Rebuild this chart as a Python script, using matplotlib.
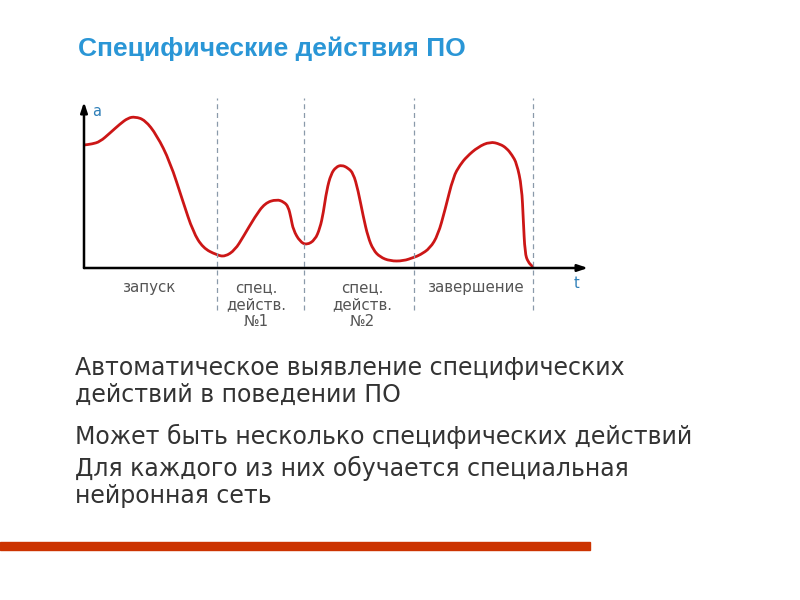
import matplotlib
matplotlib.use("Agg")
import matplotlib.pyplot as plt
from matplotlib.path import Path
import matplotlib.patches as patches

# curve: t to the right of the a-axis, a above the t-axis (pixels)
curve_t = [0, 8, 16, 26, 36, 44, 51, 61, 72.7, 86, 99, 109, 119, 132.7, 141, 151, 159.3,
           171, 181, 192.7, 200, 204.3, 207, 209.3, 216, 222.7, 231, 236, 239.3, 242.7,
           247, 252, 257.7, 264, 269.3, 274, 279.3, 284, 289.3, 296, 306, 319.3, 330,
           336, 346, 354, 361, 369.3, 376, 382.7, 394, 406, 416, 422.7, 428, 432.7,
           437.7, 439.3, 441, 444, 448.7]
curve_a = [123, 124, 126.3, 135, 144, 150, 151.3, 148, 133, 106.3, 66.3, 36.3, 20, 13, 11.3,
           18, 31.3, 51.3, 65, 68.7, 66, 61.3, 50, 38, 26.3, 23, 28, 40, 55, 78, 94,
           101, 103, 100, 94.7, 78, 51.3, 31, 18, 11, 7, 7, 10.7, 13, 19.7, 33, 58, 91.3,
           103, 111.3, 121, 126.3, 124, 119.7, 113, 104.7, 81.3, 48, 14.7, 6, 1.3]

section_edges = [132.7, 220, 330, 448.7]
section_labels = ["запуск", "спец.\nдейств.\n№1", "спец.\nдейств.\n№2", "завершение"]
section_centers = [66, 172, 278, 392]

body_lines = [
    "Автоматическое выявление специфических\nдействий в поведении ПО",
    "Может быть несколько специфических действий",
    "Для каждого из них обучается специальная\nнейронная сеть",
]


def smooth_path(xs, ys):
    # quadratic pieces through the midpoints, the read points act as control points
    pts = list(zip(xs, ys))
    verts = [pts[0]]
    codes = [Path.MOVETO]
    mid = lambda p, q: ((p[0] + q[0]) / 2, (p[1] + q[1]) / 2)
    verts.append(mid(pts[0], pts[1]))
    codes.append(Path.LINETO)
    for i in range(1, len(pts) - 1):
        verts += [pts[i], mid(pts[i], pts[i + 1])]
        codes += [Path.CURVE3, Path.CURVE3]
    verts.append(pts[-1])
    codes.append(Path.LINETO)
    return Path(verts, codes)


fig = plt.figure(figsize=(8, 6), dpi=100)
fig.patch.set_facecolor("white")

# chart axes: origin at pixel (84, 268)
ax = fig.add_axes([84 / 800, (600 - 312) / 600, (600 - 84) / 800, (312 - 95) / 600])
ax.set_xlim(0, 516)
ax.set_ylim(-44, 173)
ax.axis("off")

ax.vlines(section_edges, -42, 170, colors="#8a9aaa", linestyles=(0, (4, 3)), linewidth=0.9)

arrow = dict(arrowstyle="-|>,head_length=0.6,head_width=0.2", color="black", lw=1.8,
             shrinkA=0, shrinkB=0)
ax.annotate("", xy=(504, 0), xytext=(0, 0), arrowprops=arrow)
ax.annotate("", xy=(0, 166), xytext=(0, 0), arrowprops=arrow)
ax.text(8, 156, "a", color="#2e7fb8", fontsize=10.5, ha="left", va="center")
ax.text(493, -16, "t", color="#2e7fb8", fontsize=10.5, ha="center", va="center")

ax.add_patch(patches.PathPatch(smooth_path(curve_t, curve_a), facecolor="none",
                               edgecolor="#cc1616", lw=2.0, joinstyle="round",
                               capstyle="round"))

for cx, lab in zip(section_centers, section_labels):
    ax.text(cx, -12, lab, color="#555555", fontsize=10.8, ha="center", va="top",
            linespacing=1.15)

fig.text(78 / 800, 1 - 49 / 600, "Специфические действия ПО", color="#2a96d6",
         fontsize=19, fontweight="bold", family="Liberation Sans", ha="left",
         va="center")

body_tops = [356, 424, 456]
for top, line in zip(body_tops, body_lines):
    fig.text(75 / 800, 1 - top / 600, line, color="#333333", fontsize=17,
             ha="left", va="top", linespacing=1.15)

# red rule at the bottom
fig.add_artist(plt.Rectangle((0, 1 - 550 / 600), 590 / 800, 8 / 600,
                             color="#cc3300", transform=fig.transFigure))

fig.savefig("out.png", dpi=100)
